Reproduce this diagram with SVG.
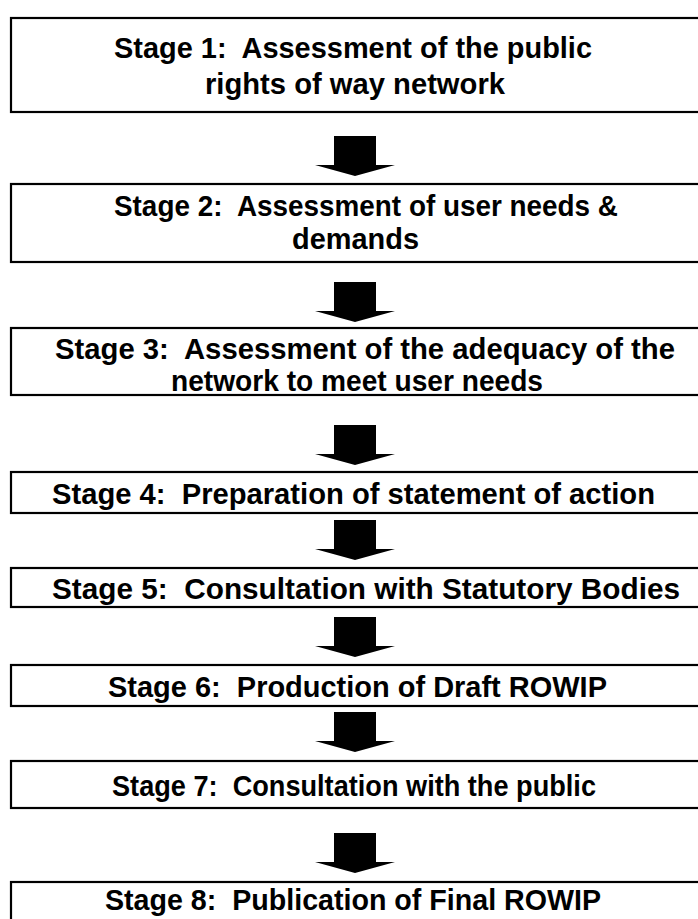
<svg xmlns="http://www.w3.org/2000/svg" width="698" height="919" viewBox="0 0 698 919">
<style>
.box{fill:#fff;stroke:#000;stroke-width:2.2}
.t{font-family:"Liberation Sans",Arial,sans-serif;font-weight:bold;font-size:30px;fill:#000;white-space:pre}
.arr{fill:#000}
</style>
<defs>
<path id="arrow" d="M-21,0 H21 V29 H40 L0,40 L-40,29 H-21 Z"/>
</defs>
<rect width="698" height="919" fill="#fff"/>
<g id="stage1"><rect class="box" x="11" y="18" width="720" height="94"/><text class="t" xml:space="preserve" x="114" y="58" textLength="478" lengthAdjust="spacingAndGlyphs">Stage 1:  Assessment of the public</text><text class="t" x="205" y="94" textLength="300" lengthAdjust="spacingAndGlyphs">rights of way network</text></g>
<g id="stage2"><rect class="box" x="11" y="184" width="720" height="78"/><text class="t" xml:space="preserve" x="114" y="216" textLength="504" lengthAdjust="spacingAndGlyphs">Stage 2:  Assessment of user needs &amp;</text><text class="t" x="292" y="249" textLength="127" lengthAdjust="spacingAndGlyphs">demands</text></g>
<g id="stage3"><rect class="box" x="11" y="328" width="720" height="67"/><text class="t" xml:space="preserve" x="55" y="359" textLength="620" lengthAdjust="spacingAndGlyphs">Stage 3:  Assessment of the adequacy of the</text><text class="t" x="171" y="391" textLength="372" lengthAdjust="spacingAndGlyphs">network to meet user needs</text></g>
<g id="stage4"><rect class="box" x="11" y="472" width="720" height="41"/><text class="t" xml:space="preserve" x="52" y="504" textLength="603" lengthAdjust="spacingAndGlyphs">Stage 4:  Preparation of statement of action</text></g>
<g id="stage5"><rect class="box" x="11" y="568" width="720" height="39"/><text class="t" xml:space="preserve" x="52" y="599" textLength="628" lengthAdjust="spacingAndGlyphs">Stage 5:  Consultation with Statutory Bodies</text></g>
<g id="stage6"><rect class="box" x="11" y="665" width="720" height="41"/><text class="t" xml:space="preserve" x="108" y="697" textLength="499" lengthAdjust="spacingAndGlyphs">Stage 6:  Production of Draft ROWIP</text></g>
<g id="stage7"><rect class="box" x="11" y="761" width="720" height="47"/><text class="t" xml:space="preserve" x="112" y="796" textLength="484" lengthAdjust="spacingAndGlyphs">Stage 7:  Consultation with the public</text></g>
<g id="stage8"><rect class="box" x="11" y="882" width="720" height="60"/><text class="t" xml:space="preserve" x="105" y="910" textLength="496" lengthAdjust="spacingAndGlyphs">Stage 8:  Publication of Final ROWIP</text></g>
<g id="connectors" class="arr">
<use href="#arrow" x="355" y="136"/>
<use href="#arrow" x="355" y="282"/>
<use href="#arrow" x="355" y="425"/>
<use href="#arrow" x="355" y="520"/>
<use href="#arrow" x="355" y="617"/>
<use href="#arrow" x="355" y="712"/>
<use href="#arrow" x="355" y="833"/>
</g>
</svg>
